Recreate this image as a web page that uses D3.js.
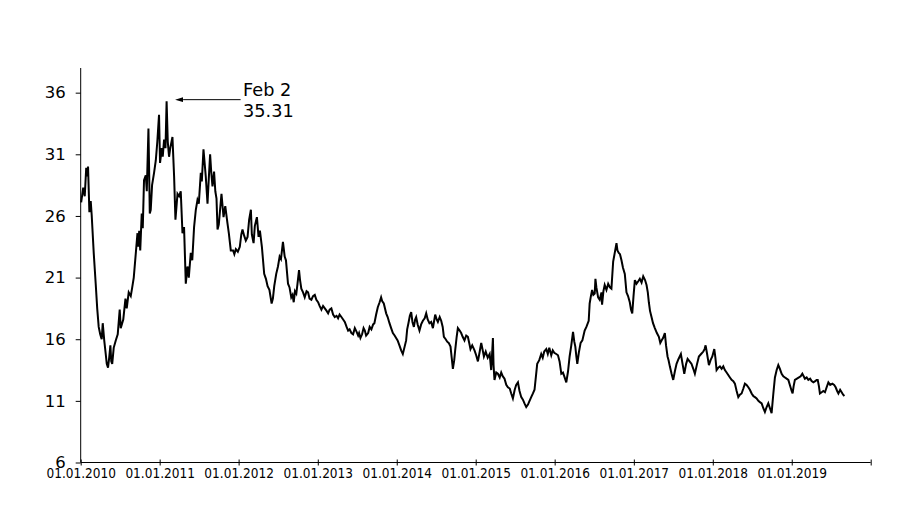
<!DOCTYPE html>
<html>
<head>
<meta charset="utf-8">
<script src="https://cdn.jsdelivr.net/npm/d3@7"></script>
<style>
  html, body { margin: 0; padding: 0; background: #fff; }
  svg { display: block; }
</style>
</head>
<body>
<svg id="chart" width="897" height="521"></svg>
<script>
// ---- data ----
const years = [
2010.006,2010.032,2010.051,2010.070,2010.082,2010.093,2010.110,2010.127,2010.139,2010.165,
2010.190,2010.209,2010.228,2010.247,2010.266,2010.279,2010.298,2010.317,2010.330,2010.346,
2010.361,2010.376,2010.387,2010.399,2010.418,2010.444,2010.469,2010.494,2010.507,2010.539,
2010.567,2010.583,2010.608,2010.634,2010.650,2010.672,2010.693,2010.719,2010.729,2010.741,
2010.754,2010.773,2010.786,2010.802,2010.824,2010.837,2010.858,2010.866,2010.875,2010.887,
2010.904,2010.929,2010.951,2010.970,2010.992,2011.005,2011.027,2011.039,2011.056,2011.074,
2011.088,2011.103,2011.119,2011.134,2011.162,2011.183,2011.200,2011.226,2011.246,2011.267,
2011.289,2011.309,2011.331,2011.352,2011.369,2011.394,2011.413,2011.436,2011.458,2011.479,
2011.496,2011.521,2011.534,2011.555,2011.584,2011.606,2011.622,2011.639,2011.654,2011.669,
2011.689,2011.705,2011.720,2011.733,2011.749,2011.783,2011.809,2011.831,2011.859,2011.876,
2011.901,2011.930,2011.946,2011.965,2011.990,2012.015,2012.034,2012.049,2012.070,2012.091,
2012.113,2012.133,2012.155,2012.167,2012.189,2012.205,2012.231,2012.252,2012.269,2012.294,
2012.323,2012.345,2012.366,2012.389,2012.417,2012.433,2012.450,2012.475,2012.497,2012.518,
2012.535,2012.560,2012.582,2012.598,2012.624,2012.643,2012.665,2012.681,2012.696,2012.712,
2012.729,2012.744,2012.763,2012.776,2012.792,2012.814,2012.835,2012.858,2012.877,2012.896,
2012.919,2012.940,2012.962,2012.982,2013.004,2013.023,2013.046,2013.067,2013.089,2013.112,
2013.131,2013.150,2013.172,2013.194,2013.215,2013.238,2013.257,2013.276,2013.299,2013.321,
2013.342,2013.365,2013.384,2013.403,2013.426,2013.447,2013.469,2013.492,2013.511,2013.523,
2013.540,2013.561,2013.580,2013.596,2013.612,2013.638,2013.657,2013.679,2013.701,2013.717,
2013.739,2013.760,2013.783,2013.802,2013.815,2013.836,2013.866,2013.885,2013.908,2013.929,
2013.951,2013.973,2013.992,2014.011,2014.034,2014.056,2014.077,2014.100,2014.119,2014.132,
2014.148,2014.166,2014.183,2014.199,2014.217,2014.233,2014.246,2014.265,2014.288,2014.309,
2014.331,2014.354,2014.373,2014.392,2014.414,2014.436,2014.458,2014.474,2014.487,2014.506,
2014.521,2014.544,2014.563,2014.582,2014.597,2014.620,2014.639,2014.658,2014.681,2014.696,
2014.711,2014.728,2014.740,2014.759,2014.774,2014.797,2014.816,2014.835,2014.858,2014.880,
2014.901,2014.918,2014.934,2014.956,2014.985,2015.006,2015.028,2015.051,2015.070,2015.086,
2015.104,2015.127,2015.152,2015.177,2015.196,2015.205,2015.218,2015.226,2015.238,2015.260,
2015.281,2015.304,2015.323,2015.342,2015.365,2015.387,2015.408,2015.431,2015.450,2015.471,
2015.494,2015.513,2015.535,2015.555,2015.577,2015.598,2015.618,2015.640,2015.662,2015.682,
2015.703,2015.725,2015.745,2015.763,2015.779,2015.805,2015.830,2015.849,2015.868,2015.894,
2015.913,2015.932,2015.957,2015.976,2015.995,2016.020,2016.042,2016.062,2016.084,2016.105,
2016.126,2016.147,2016.169,2016.189,2016.210,2016.232,2016.248,2016.261,2016.274,2016.286,
2016.305,2016.328,2016.350,2016.379,2016.401,2016.430,2016.442,2016.455,2016.473,2016.489,
2016.506,2016.515,2016.527,2016.549,2016.569,2016.591,2016.599,2016.616,2016.632,2016.654,
2016.676,2016.698,2016.717,2016.739,2016.759,2016.781,2016.793,2016.810,2016.825,2016.844,
2016.863,2016.886,2016.907,2016.927,2016.949,2016.964,2016.980,2016.996,2017.013,2017.034,
2017.056,2017.076,2017.098,2017.119,2017.142,2017.161,2017.177,2017.190,2017.205,2017.224,
2017.243,2017.266,2017.292,2017.317,2017.335,2017.351,2017.370,2017.393,2017.408,2017.427,
2017.440,2017.456,2017.478,2017.499,2017.520,2017.541,2017.566,2017.596,2017.617,2017.639,
2017.662,2017.681,2017.706,2017.731,2017.753,2017.773,2017.801,2017.824,2017.852,2017.880,
2017.896,2017.909,2017.928,2017.951,2017.972,2017.994,2018.019,2018.033,2018.048,2018.070,
2018.090,2018.112,2018.133,2018.153,2018.175,2018.196,2018.217,2018.238,2018.260,2018.280,
2018.302,2018.323,2018.343,2018.365,2018.387,2018.407,2018.428,2018.450,2018.470,2018.492,
2018.513,2018.534,2018.555,2018.577,2018.597,2018.619,2018.640,2018.660,2018.682,2018.703,
2018.724,2018.745,2018.767,2018.787,2018.809,2018.830,2018.850,2018.872,2018.893,2018.914,
2018.935,2018.957,2018.980,2018.999,2019.011,2019.024,2019.040,2019.066,2019.091,2019.113,
2019.134,2019.151,2019.167,2019.189,2019.210,2019.233,2019.252,2019.274,2019.297,2019.316,
2019.329,2019.344,2019.357,2019.379,2019.400,2019.421,2019.442,2019.464,2019.487,2019.515,
2019.537,2019.556,2019.575,2019.591,2019.613,2019.632,2019.651,2019.667
];
const values = [
27.1,28.3,27.6,29.9,29.2,30.0,26.3,27.2,26.1,23.0,
20.5,18.5,17.0,16.4,16.0,17.3,15.9,14.8,14.0,13.7,
14.5,15.5,14.2,14.0,15.3,15.9,16.4,18.4,16.9,17.6,
19.3,18.5,19.8,19.5,20.1,21.0,22.6,24.6,23.5,24.8,
23.2,26.2,25.0,28.9,29.3,28.0,33.1,30.0,26.2,26.5,
28.5,29.5,30.5,32.0,34.2,30.3,31.5,30.8,32.2,31.5,
35.31,32.0,30.8,31.5,32.4,29.2,25.7,27.8,27.6,28.0,
24.6,25.1,20.5,21.9,21.0,23.0,22.4,25.1,26.5,27.3,
27.0,29.5,28.8,31.4,29.2,27.0,29.0,31.0,29.5,28.4,
29.6,28.0,27.4,24.9,25.3,27.8,25.9,26.8,25.4,24.6,
23.2,23.2,22.9,23.3,23.1,23.5,24.5,24.9,24.4,24.0,
24.3,25.7,26.5,24.5,23.8,25.2,25.9,24.3,24.8,23.5,
21.3,20.9,20.3,20.0,18.9,19.3,20.3,21.3,21.9,22.7,
22.5,23.9,22.7,22.4,20.5,20.2,19.4,19.6,19.0,19.9,
19.7,20.5,21.6,20.8,20.1,19.8,19.4,19.9,19.8,19.3,
19.2,19.5,19.6,19.2,19.0,18.7,18.4,18.7,18.5,18.3,
18.1,18.4,18.5,18.0,17.8,17.9,17.7,18.0,17.8,17.6,
17.4,17.0,16.7,16.8,16.5,16.4,16.9,16.6,16.3,16.5,
16.1,16.4,16.9,16.7,16.3,16.5,17.0,16.8,17.2,17.3,
18.0,18.6,19.0,19.4,19.1,18.9,18.1,17.8,17.3,16.9,
16.5,16.3,16.1,15.9,15.5,15.1,14.8,15.4,15.9,16.8,
17.3,17.9,18.2,17.4,17.0,17.6,17.8,17.2,16.7,17.2,
17.5,17.7,18.1,17.6,17.3,17.4,16.9,17.5,18.0,17.6,
17.4,17.8,17.5,17.0,16.2,16.0,15.8,15.7,15.4,14.5,
13.6,14.3,15.1,16.2,16.9,16.7,16.5,16.2,15.9,16.3,
16.2,15.7,15.2,15.5,15.1,14.7,14.2,15.0,15.7,15.2,
14.6,15.0,14.5,14.8,13.5,14.5,16.1,13.9,12.7,13.3,
13.2,12.9,13.3,13.0,12.8,12.3,12.1,12.0,11.6,11.2,
11.9,12.3,12.5,11.8,11.3,11.1,10.8,10.5,10.7,11.0,
11.3,11.6,11.9,13.0,14.0,14.3,14.8,14.5,15.0,15.2,
14.8,15.3,14.7,15.1,14.9,14.8,14.7,14.2,13.2,13.3,
12.9,12.5,13.4,14.6,15.5,16.6,15.8,15.4,14.6,14.0,
14.9,15.7,15.9,16.7,17.0,17.5,18.9,19.4,20.0,19.6,
19.7,20.9,20.2,19.4,19.2,19.8,18.8,19.9,20.4,20.0,
20.5,20.2,20.1,22.3,23.0,23.8,23.2,23.0,22.9,22.4,
21.8,21.3,19.8,19.5,19.0,18.4,18.1,19.5,20.8,20.5,
20.7,20.9,20.6,21.1,20.8,20.4,19.8,19.0,18.3,17.8,
17.3,16.9,16.5,16.2,15.7,15.9,16.1,16.5,15.5,14.6,
14.3,13.8,13.2,12.7,13.4,14.0,14.4,14.8,14.0,13.2,
14.0,14.4,14.2,14.0,13.6,13.2,14.0,14.6,14.8,15.0,
15.2,15.5,14.8,13.9,14.3,14.6,15.2,14.5,13.5,13.7,
13.8,13.6,13.8,13.5,13.3,13.1,12.9,12.7,12.6,12.4,
11.8,11.3,11.5,11.6,12.0,12.4,12.3,12.1,11.9,11.6,
11.4,11.3,11.2,11.0,10.9,10.8,10.4,10.1,10.5,10.8,
10.4,10.0,11.6,12.9,13.5,13.9,13.6,13.2,13.0,12.9,
12.8,12.7,12.2,11.8,11.6,12.2,12.7,12.8,12.9,13.0,
13.2,13.0,12.8,12.9,12.7,12.8,12.6,12.5,12.6,12.7,
12.7,12.2,11.6,11.7,11.8,11.7,12.1,12.5,12.3,12.4,
12.3,12.1,11.8,11.6,11.9,11.7,11.5,11.4
];
const yTicks = [6, 11, 16, 21, 26, 31, 36];
const xTickYears = [2010, 2011, 2012, 2013, 2014, 2015, 2016, 2017, 2018, 2019, 2020];
const annotationLines = ["Feb 2", "35.31"];
const peakYear = 2011.088;
const peakValue = 35.31;

// ---- helpers ----
function yearToDate(t) {
  const Y = Math.floor(t);
  const a = Date.UTC(Y, 0, 1), b = Date.UTC(Y + 1, 0, 1);
  return new Date(a + (t - Y) * (b - a));
}
const series = years.map((t, i) => ({ date: yearToDate(t), value: values[i] }));

// ---- layout ----
const svg = d3.select("#chart");
const plotLeft = 80.7, plotRight = 870.7, plotTop = 68, plotBottom = 462.5;

const x = d3.scaleUtc()
  .domain([new Date(Date.UTC(2010, 0, 1)), new Date(Date.UTC(2020, 0, 1))])
  .range([plotLeft, plotRight]);
const y = d3.scaleLinear().domain([6, 38]).range([plotBottom, plotTop]);

// Y axis
const yAxis = svg.append("g")
  .attr("transform", `translate(${plotLeft},0)`)
  .call(d3.axisLeft(y).tickValues(yTicks).tickSize(5).tickPadding(10).tickFormat(d3.format("d")));
yAxis.select(".domain").attr("d", `M0,${plotBottom}V${plotTop}`).attr("stroke", "#000");
yAxis.selectAll(".tick line").attr("stroke", "#000");
yAxis.selectAll("text")
  .attr("font-family", "'DejaVu Sans', Verdana, sans-serif")
  .attr("font-size", 16.5)
  .attr("fill", "#000");

// X axis
const xAxis = svg.append("g")
  .attr("transform", `translate(0,${plotBottom})`)
  .call(d3.axisBottom(x)
    .tickValues(xTickYears.map(yr => new Date(Date.UTC(yr, 0, 1))))
    .tickSize(3)
    .tickFormat(d => d.getUTCFullYear() === 2020 ? "" : d3.utcFormat("%d.%m.%Y")(d)));
xAxis.select(".domain").attr("d", `M${plotLeft},0H${plotRight}`).attr("stroke", "#000");
xAxis.selectAll(".tick line").attr("y1", -3).attr("y2", 3).attr("stroke", "#000");
xAxis.selectAll("text")
  .attr("y", 15).attr("dy", 0)
  .attr("font-family", "'DejaVu Sans Condensed', 'DejaVu Sans', Verdana, sans-serif")
  .attr("font-stretch", "condensed")
  .attr("font-size", 13.5)
  .attr("fill", "#000");

// Line
const line = d3.line().x(d => x(d.date)).y(d => y(d.value));
svg.append("path")
  .datum(series)
  .attr("fill", "none")
  .attr("stroke", "#000")
  .attr("stroke-width", 2)
  .attr("stroke-linejoin", "miter")
  .attr("d", line);

// Annotation
const px = x(yearToDate(peakYear)), py = y(peakValue);
svg.append("defs").append("marker")
  .attr("id", "arrowhead")
  .attr("viewBox", "0 0 10 6")
  .attr("refX", 0).attr("refY", 3)
  .attr("markerWidth", 8).attr("markerHeight", 5)
  .attr("markerUnits", "userSpaceOnUse")
  .attr("orient", "auto")
  .append("path").attr("d", "M0,0L10,3L0,6Z").attr("fill", "#000");
svg.append("line")
  .attr("x1", px + 74).attr("y1", py - 1.5)
  .attr("x2", px + 16.5).attr("y2", py - 1.5)
  .attr("stroke", "#000").attr("stroke-width", 1)
  .attr("marker-end", "url(#arrowhead)");
const ann = svg.append("text")
  .attr("font-family", "'DejaVu Sans', Verdana, sans-serif")
  .attr("font-size", 17.7)
  .attr("fill", "#000");
annotationLines.forEach((s, i) => {
  ann.append("tspan").attr("x", px + 76.5).attr("y", py - 5.5 + i * 21).text(s);
});
</script>
</body>
</html>
